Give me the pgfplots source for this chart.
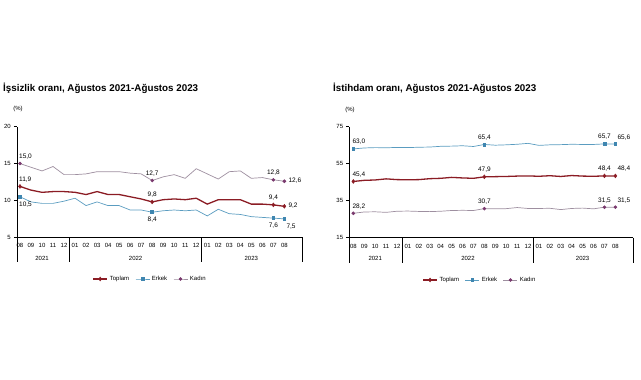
\documentclass[border=0pt]{standalone}
\usepackage{fontspec}
\setmainfont{Liberation Sans}
\usepackage{pgfplots}
\pgfplotsset{compat=1.18}
\definecolor{ctop}{HTML}{8B1C24}
\definecolor{cerk}{HTML}{5A9CC0}
\definecolor{cerkm}{HTML}{3F86B0}
\definecolor{ckad}{HTML}{9E8FA0}
\definecolor{ckadm}{HTML}{7A3A6E}
\pgfplotsset{
  myax/.style={
    scale only axis,
    axis x line=bottom, axis y line=left,
    axis line style={black, line width=0.6pt, -},
    xtick={0,...,24},
    xticklabels={08,09,10,11,12,01,02,03,04,05,06,07,08,09,10,11,12,01,02,03,04,05,06,07,08},
    x tick label style={font=\fontsize{6}{7}\selectfont, inner sep=1pt, yshift=-2pt},
    y tick label style={font=\fontsize{6}{7}\selectfont, inner sep=1pt, xshift=-2pt},
    /pgf/number format/assume math mode=true,
    xtick style={draw=none},
    ytick style={black, line width=0.5pt},
    tick align=outside,
    major tick length=3pt,
    clip=false,
    legend columns=3,
    legend style={draw=none, fill=none, font=\fontsize{6}{7}\selectfont, anchor=center,
      /tikz/every even column/.append style={column sep=4pt}},
    legend image code/.code={\draw[##1, mark indices={2}] plot coordinates {(0pt,0pt)(7pt,0pt)(14pt,0pt)};},
  },
  stop/.style={ctop, line width=1.3pt, mark=diamond*, mark size=2pt, mark options={fill=ctop, draw=ctop, line width=0.4pt}, mark indices={1,13,24,25}},
  serk/.style={cerk, line width=0.7pt, mark=square*, mark size=1.4pt, mark options={fill=cerkm, draw=cerkm}, mark indices={1,13,24,25}},
  skad/.style={ckad, line width=0.7pt, mark=*, mark size=1.4pt, mark options={fill=ckadm, draw=ckadm}, mark indices={1,13,24,25}},
}
\begin{document}
\begin{tikzpicture}[x=1pt,y=1pt]
\path[use as bounding box] (0,0) rectangle (641,380);
\node[anchor=west, font=\bfseries\fontsize{9.8}{11}\selectfont, inner sep=0pt] at (3,292) {İşsizlik oranı, Ağustos 2021-Ağustos 2023};
\node[anchor=west, font=\bfseries\fontsize{9.8}{11}\selectfont, inner sep=0pt] at (333,292) {İstihdam oranı, Ağustos 2021-Ağustos 2023};
\node[font=\fontsize{6}{7}\selectfont, inner sep=0pt] at (18,271) {(\%)};
\node[font=\fontsize{6}{7}\selectfont, inner sep=0pt] at (350,270) {(\%)};

% Left chart
\begin{axis}[myax, at={(17pt,142.7pt)}, anchor=south west, width=285pt, height=110.6pt,
  xmin=-0.27, xmax=25.6, ymin=5, ymax=20, ytick={5,10,15,20},
  legend style={at={(0.467,-0.377)}}]
\addplot[stop] coordinates {(0,11.9)(1,11.4)(2,11.1)(3,11.2)(4,11.2)(5,11.1)(6,10.8)(7,11.2)(8,10.8)(9,10.8)(10,10.5)(11,10.2)(12,9.8)(13,10.1)(14,10.2)(15,10.1)(16,10.3)(17,9.5)(18,10.1)(19,10.1)(20,10.1)(21,9.5)(22,9.5)(23,9.4)(24,9.2)};
\addlegendentry{Toplam}
\addplot[serk] coordinates {(0,10.5)(1,9.8)(2,9.6)(3,9.6)(4,9.9)(5,10.3)(6,9.3)(7,9.8)(8,9.3)(9,9.3)(10,8.7)(11,8.7)(12,8.4)(13,8.6)(14,8.7)(15,8.6)(16,8.7)(17,7.9)(18,8.8)(19,8.2)(20,8.1)(21,7.8)(22,7.7)(23,7.6)(24,7.5)};
\addlegendentry{Erkek}
\addplot[skad] coordinates {(0,15.0)(1,14.5)(2,14.0)(3,14.6)(4,13.5)(5,13.5)(6,13.6)(7,13.9)(8,13.9)(9,13.9)(10,13.7)(11,13.6)(12,12.7)(13,13.2)(14,13.5)(15,13.0)(16,14.3)(17,13.6)(18,12.9)(19,13.9)(20,14.0)(21,13.0)(22,13.1)(23,12.8)(24,12.6)};
\addlegendentry{Kadın}
\begin{scope}[font=\fontsize{6.5}{7.5}\selectfont, inner sep=1pt]
\node[above right, xshift=-2pt, yshift=3pt] at (axis cs:0,15.0) {15,0};
\node[above, yshift=3pt] at (axis cs:12,12.7) {12,7};
\node[above, yshift=3pt] at (axis cs:23,12.8) {12,8};
\node[right, xshift=3pt, yshift=1pt] at (axis cs:24,12.6) {12,6};
\node[above right, xshift=-2pt, yshift=3pt] at (axis cs:0,11.9) {11,9};
\node[above, yshift=3pt] at (axis cs:12,9.8) {9,8};
\node[above, yshift=3pt] at (axis cs:23,9.4) {9,4};
\node[right, xshift=3pt, yshift=1pt] at (axis cs:24,9.2) {9,2};
\node[below right, xshift=-2pt, yshift=-4pt] at (axis cs:0,10.5) {10,5};
\node[below, yshift=-4pt] at (axis cs:12,8.4) {8,4};
\node[below, yshift=-4pt] at (axis cs:23,7.6) {7,6};
\node[below right, xshift=1pt, yshift=-4pt] at (axis cs:24,7.5) {7,5};
\end{scope}
\draw[line width=0.6pt] (axis cs:-0.27,5) -- ([yshift=-25pt]axis cs:-0.27,5);
\draw[line width=0.6pt] (axis cs:4.5,5) -- ([yshift=-25pt]axis cs:4.5,5);
\draw[line width=0.6pt] (axis cs:16.5,5) -- ([yshift=-25pt]axis cs:16.5,5);
\draw[line width=0.6pt] (axis cs:25.6,5) -- ([yshift=-25pt]axis cs:25.6,5);
\node[font=\fontsize{6}{7}\selectfont] at ([yshift=-21pt]axis cs:2,5) {2021};
\node[font=\fontsize{6}{7}\selectfont] at ([yshift=-21pt]axis cs:10.5,5) {2022};
\node[font=\fontsize{6}{7}\selectfont] at ([yshift=-21pt]axis cs:21,5) {2023};
\end{axis}

% Right chart
\begin{axis}[myax, at={(349.3pt,142.3pt)}, anchor=south west, width=284pt, height=111pt,
  xmin=-0.37, xmax=25.64, ymin=15, ymax=75, ytick={15,35,55,75},
  legend style={at={(0.46,-0.381)}}]
\addplot[stop] coordinates {(0,45.4)(1,46.0)(2,46.2)(3,46.8)(4,46.4)(5,46.3)(6,46.4)(7,46.9)(8,47.1)(9,47.6)(10,47.3)(11,47.1)(12,47.9)(13,48.0)(14,48.1)(15,48.3)(16,48.4)(17,48.2)(18,48.5)(19,48.1)(20,48.6)(21,48.3)(22,48.2)(23,48.4)(24,48.4)};
\addlegendentry{Toplam}
\addplot[serk] coordinates {(0,63.0)(1,63.5)(2,63.7)(3,63.6)(4,63.8)(5,63.7)(6,63.9)(7,64.0)(8,64.4)(9,64.5)(10,64.7)(11,64.3)(12,65.4)(13,65.0)(14,65.2)(15,65.5)(16,66.0)(17,64.9)(18,65.2)(19,65.3)(20,65.5)(21,65.4)(22,65.4)(23,65.7)(24,65.6)};
\addlegendentry{Erkek}
\addplot[skad] coordinates {(0,28.2)(1,28.9)(2,29.0)(3,28.7)(4,29.3)(5,29.4)(6,29.2)(7,29.1)(8,29.3)(9,29.7)(10,29.8)(11,29.7)(12,30.7)(13,30.6)(14,30.7)(15,31.3)(16,30.8)(17,30.8)(18,30.9)(19,30.2)(20,30.8)(21,31.0)(22,30.6)(23,31.5)(24,31.5)};
\addlegendentry{Kadın}
\begin{scope}[font=\fontsize{6.5}{7.5}\selectfont, inner sep=1pt]
\node[above right, xshift=-2pt, yshift=3pt] at (axis cs:0,63.0) {63,0};
\node[above, yshift=3pt] at (axis cs:12,65.4) {65,4};
\node[above, yshift=3pt] at (axis cs:23,65.7) {65,7};
\node[above right, xshift=1pt, yshift=3pt] at (axis cs:24,65.6) {65,6};
\node[above right, xshift=-2pt, yshift=3pt] at (axis cs:0,45.4) {45,4};
\node[above, yshift=3pt] at (axis cs:12,47.9) {47,9};
\node[above, yshift=3pt] at (axis cs:23,48.4) {48,4};
\node[above right, xshift=1pt, yshift=3pt] at (axis cs:24,48.4) {48,4};
\node[above right, xshift=-2pt, yshift=3pt] at (axis cs:0,28.2) {28,2};
\node[above, yshift=3pt] at (axis cs:12,30.7) {30,7};
\node[above, yshift=3pt] at (axis cs:23,31.5) {31,5};
\node[above right, xshift=1pt, yshift=3pt] at (axis cs:24,31.5) {31,5};
\end{scope}
\draw[line width=0.6pt] (axis cs:-0.37,15) -- ([yshift=-25pt]axis cs:-0.37,15);
\draw[line width=0.6pt] (axis cs:4.5,15) -- ([yshift=-25pt]axis cs:4.5,15);
\draw[line width=0.6pt] (axis cs:16.5,15) -- ([yshift=-25pt]axis cs:16.5,15);
\draw[line width=0.6pt] (axis cs:25.64,15) -- ([yshift=-25pt]axis cs:25.64,15);
\node[font=\fontsize{6}{7}\selectfont] at ([yshift=-21pt]axis cs:2,15) {2021};
\node[font=\fontsize{6}{7}\selectfont] at ([yshift=-21pt]axis cs:10.5,15) {2022};
\node[font=\fontsize{6}{7}\selectfont] at ([yshift=-21pt]axis cs:21,15) {2023};
\end{axis}
\end{tikzpicture}
\end{document}
